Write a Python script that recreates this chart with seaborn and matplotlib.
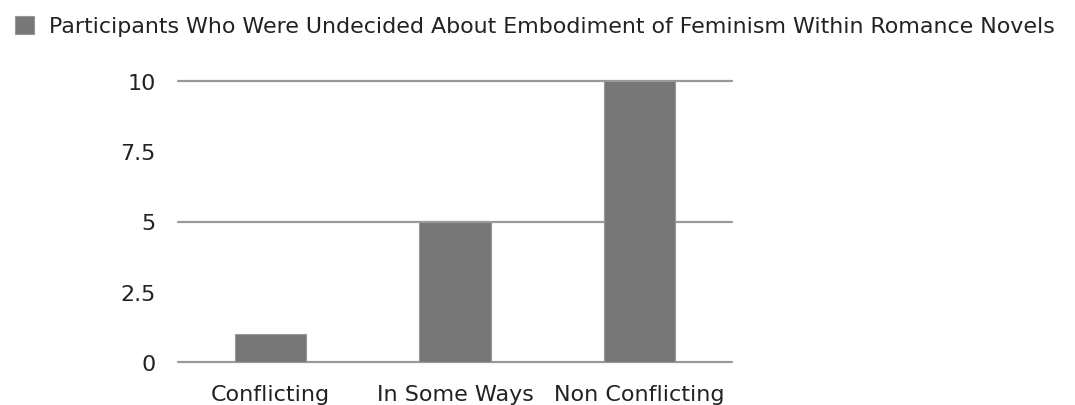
import pandas as pd
import matplotlib.pyplot as plt
import seaborn as sns

categories = ["Conflicting", "In Some Ways", "Non Conflicting"]
counts = [1, 5, 10]
series_name = "Participants Who Were Undecided About Embodiment of Feminism Within Romance Novels"
yticks = [0, 2.5, 5, 7.5, 10]
ytick_labels = ["0", "2.5", "5", "7.5", "10"]

df = pd.DataFrame({"category": categories, "count": counts})

sns.set_style("white")
plt.rcParams["font.family"] = ["DejaVu Sans"]

fig = plt.figure(figsize=(10.75, 4.06), dpi=100)
ax = fig.add_axes([178 / 1075, 1 - 363 / 406, (732 - 178) / 1075, (363 - 82) / 406])

sns.barplot(data=df, x="category", y="count", color="#777777", saturation=1,
            width=0.385, label=series_name, ax=ax, zorder=3,
            edgecolor="#999999", linewidth=0.8)

ax.set_ylim(0, 10)
ax.set_yticks(yticks)
ax.set_yticklabels(ytick_labels)
# gridlines only at 0, 5 and 10
for v in [0, 5, 10]:
    ax.axhline(v, color="#999999", lw=1.6, zorder=1, clip_on=False)
for s in ax.spines.values():
    s.set_visible(False)
ax.tick_params(axis="both", length=0, labelsize=16, colors="#222222")
ax.tick_params(axis="y", pad=16)
ax.tick_params(axis="x", pad=16)
ax.set_xlabel("")
ax.set_ylabel("")

ax.legend(loc="upper left", bbox_to_anchor=(15 / 1075, 1 - 17 / 406),
          bbox_transform=fig.transFigure, frameon=False, fontsize=15.9,
          borderpad=0, borderaxespad=0,
          handlelength=0.85, handleheight=0.85, handletextpad=0.7,
          labelcolor="#222222")

fig.savefig("out.png", dpi=100)
